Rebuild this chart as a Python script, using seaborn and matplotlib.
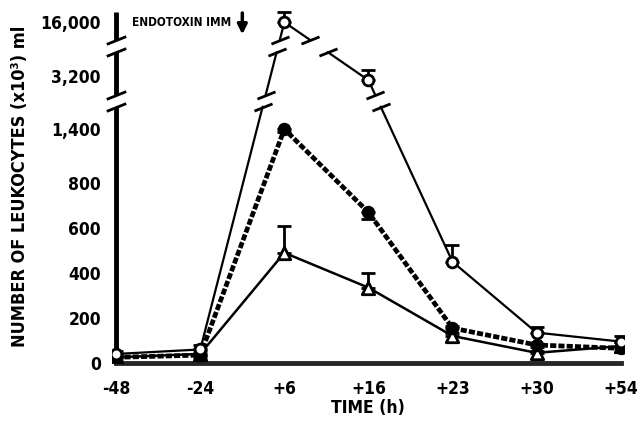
import numpy as np
import matplotlib
matplotlib.use('Agg')
import matplotlib.pyplot as plt
import seaborn as sns
from matplotlib.path import Path

# Leukocyte counts (x10^3 / ml) over time, three groups
times = ['-48', '-24', '+6', '+16', '+23', '+30', '+54']
open_circ = [40, 60, 16000, 3100, 450, 135, 95]
open_circ_err = [15, 20, 1000, 260, 75, 27, 27]
filled_circ = [25, 35, 1400, 670, 155, 80, 65]
filled_circ_err = [10, 10, 30, 30, 20, 10, 15]
triangles = [25, 40, 490, 335, 120, 45, 75]
triangles_err = [10, 15, 120, 65, 45, 10, 20]

ytick_vals = [0, 200, 400, 600, 800, 1400, 3200, 16000]
ytick_text = ['0', '200', '400', '600', '800', '1,400', '3,200', '16,000']

# broken y axis: value knots -> drawn height knots
v_knots = np.array([0, 800, 1650, 2700, 3850, 14200, 17200], dtype=float)
h_knots = np.array([0, 180, 256.5, 268, 311, 323, 353], dtype=float)
gaps = [(1650, 2700), (3850, 14200)]
axis_segments = [(0, 1650), (2700, 3850), (14200, 17000)]


def fwd(v):
    v = np.asarray(v, dtype=float)
    return np.interp(v, v_knots, h_knots)


def inv(h):
    h = np.asarray(h, dtype=float)
    return np.interp(h, h_knots, v_knots)


slash = Path([(-1, -0.4), (1, 0.4)], [Path.MOVETO, Path.LINETO])


def split_line(xs, vs):
    """cut a polyline where it crosses the axis gaps, return pieces and break points"""
    xs = np.asarray(xs, dtype=float)
    hs = fwd(vs)
    out_x, out_y, bx, by = [], [], [], []
    for i in range(len(xs) - 1):
        out_x.append(xs[i]); out_y.append(vs[i])
        a, b = hs[i], hs[i + 1]
        cuts = []
        for lo, hi in gaps:
            hlo, hhi = fwd(lo), fwd(hi)
            if min(a, b) < hlo and max(a, b) > hhi:
                t1 = (hlo - a) / (b - a)
                t2 = (hhi - a) / (b - a)
                cuts.append(sorted([(t1, lo), (t2, hi)]))
        cuts.sort()
        for (t1, v1), (t2, v2) in cuts:
            x1 = xs[i] + t1 * (xs[i + 1] - xs[i])
            x2 = xs[i] + t2 * (xs[i + 1] - xs[i])
            out_x += [x1, np.nan, x2]
            out_y += [v1, np.nan, v2]
            bx += [x1, x2]
            by += [v1, v2]
    out_x.append(xs[-1]); out_y.append(vs[-1])
    return out_x, out_y, bx, by


sns.set_style('white')
plt.rcParams['font.family'] = ['DejaVu Sans']
plt.rcParams['font.stretch'] = 'condensed'
plt.rcParams['font.weight'] = 'bold'
for k in ['text.color', 'axes.labelcolor', 'xtick.color', 'ytick.color']:
    plt.rcParams[k] = 'black'

fig = plt.figure(figsize=(6.4, 4.25), dpi=100)
ax = fig.add_axes([0.175, 0.146, 0.8, 0.83])
ax.set_yscale('function', functions=(fwd, inv))

xpos = np.arange(len(times))

# open circles, solid thin line with breaks
lx, ly, bx, by = split_line(xpos, open_circ)
ax.plot(lx, ly, color='k', lw=1.6, zorder=3)
ax.plot(bx, by, ls='none', marker=slash, ms=13, mew=2, color='k', zorder=4)
ax.errorbar(xpos, open_circ, yerr=[np.zeros(7), open_circ_err], fmt='none',
            ecolor='k', elinewidth=2, capsize=5, capthick=2, zorder=3)

# filled circles, thick dashed line
sns.lineplot(x=xpos, y=filled_circ, ax=ax, color='k', lw=3.4,
             linestyle=(0, (1.3, 0.45)), zorder=3)
ax.errorbar(xpos, filled_circ, yerr=[filled_circ_err, np.zeros(7)], fmt='none',
            ecolor='k', elinewidth=2, capsize=5, capthick=2, zorder=3)

# triangles, solid line
sns.lineplot(x=xpos, y=triangles, ax=ax, color='k', lw=1.8, zorder=3)
ax.errorbar(xpos, triangles, yerr=[np.zeros(7), triangles_err], fmt='none',
            ecolor='k', elinewidth=2, capsize=5, capthick=2, zorder=3)

sns.scatterplot(x=xpos, y=triangles, ax=ax, marker='^', s=80, color='white',
                edgecolor='k', linewidth=2, zorder=5)
sns.scatterplot(x=xpos, y=filled_circ, ax=ax, marker='o', s=75, color='k',
                edgecolor='k', linewidth=1, zorder=6)
sns.scatterplot(x=xpos, y=open_circ, ax=ax, marker='o', s=60, color='white',
                edgecolor='k', linewidth=2, zorder=7)

ax.set_xlim(-0.05, 6.04)
ax.set_ylim(0, 17200)

# y axis drawn in pieces with break marks
for lo, hi in axis_segments:
    ax.plot([0, 0], [lo, hi], color='k', lw=3.5, solid_capstyle='butt', zorder=2, clip_on=False)
for lo, hi in gaps:
    ax.plot([0, 0], [lo, hi], ls='none', marker=slash, ms=14, mew=2, color='k', clip_on=False, zorder=2)

for s in ['top', 'right']:
    ax.spines[s].set_visible(False)
ax.spines['left'].set_position(('data', 0))
ax.spines['left'].set_visible(False)
ax.spines['bottom'].set_linewidth(3.5)
ax.spines['bottom'].set_bounds(0, 6)

ax.set_yticks(ytick_vals)
ax.set_yticklabels(ytick_text)
ax.yaxis.set_minor_locator(matplotlib.ticker.NullLocator())
ax.set_xticks(xpos)
ax.set_xticklabels(times)
ax.tick_params(axis='both', direction='out', length=8, width=2, labelsize=12.5, color='k', pad=4)
ax.tick_params(axis='y', pad=3)
for lab in ax.get_xticklabels() + ax.get_yticklabels():
    lab.set_fontweight('bold')

ax.set_xlabel('TIME (h)', fontsize=12.5, fontweight='bold', labelpad=1)
ax.set_ylabel('NUMBER OF LEUKOCYTES (x10³) ml', fontsize=13, fontweight='bold', labelpad=8)

ax.text(0.19, 16000, 'ENDOTOXIN IMM', fontsize=8.5, fontweight='bold', va='center', ha='left')
ax.annotate('', xy=(1.5, 14500), xytext=(1.5, 17800),
            arrowprops=dict(arrowstyle='-|>', color='k', lw=2.5, mutation_scale=14),
            annotation_clip=False)

fig.savefig('out.png', dpi=100)
